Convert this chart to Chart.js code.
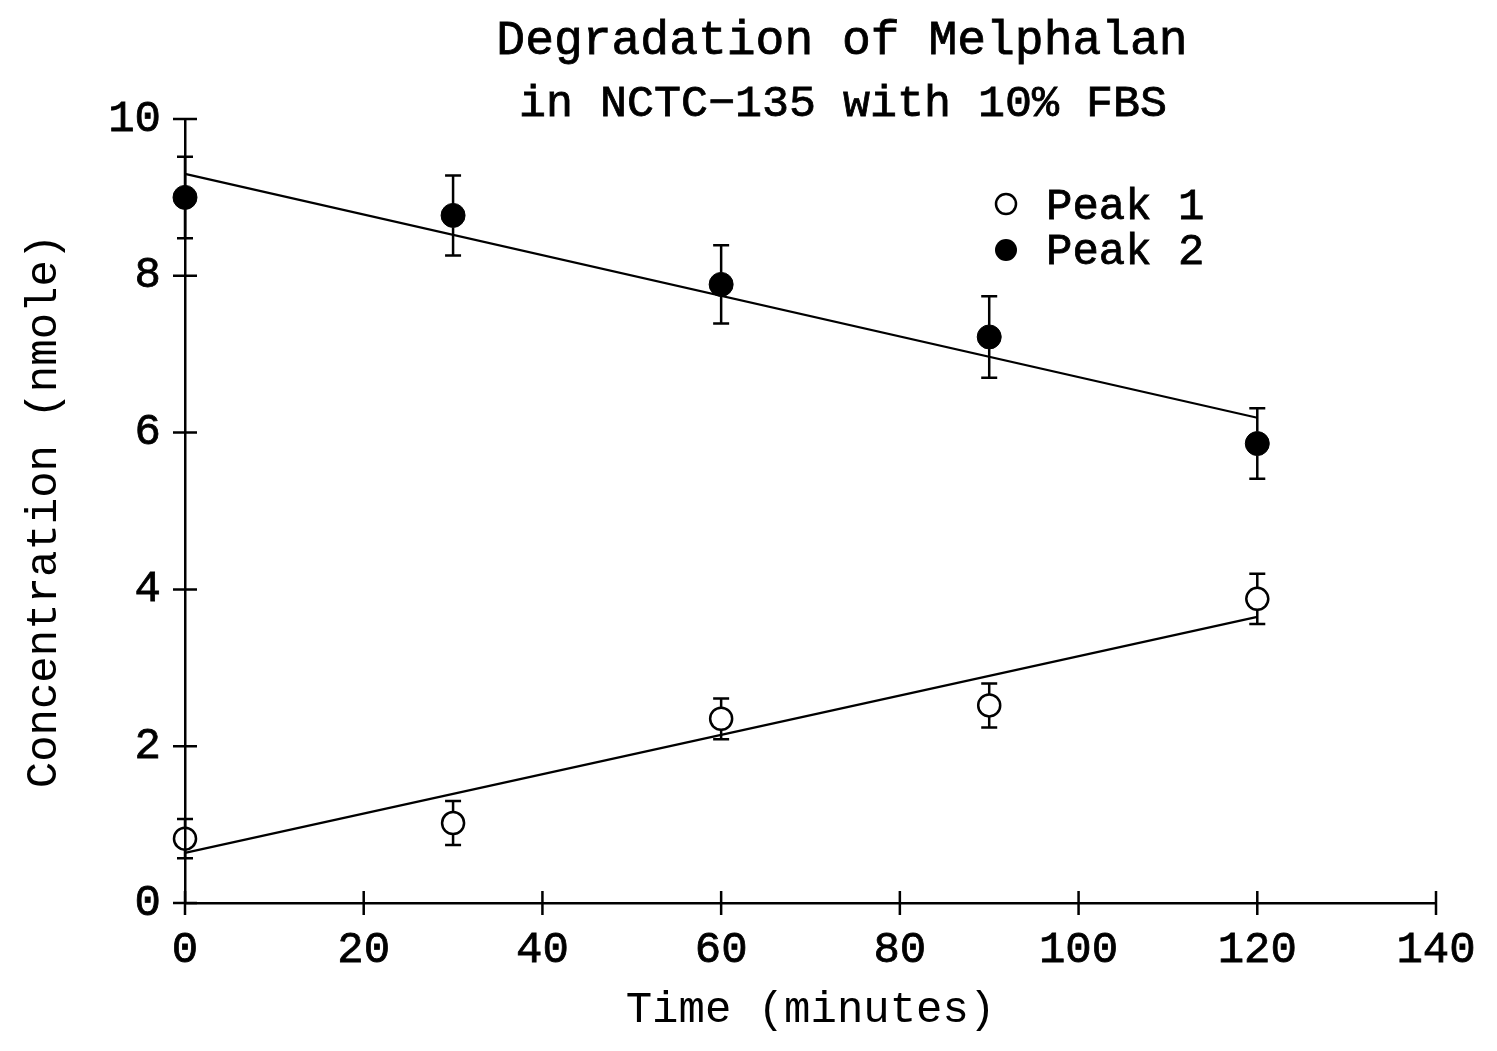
<!DOCTYPE html>
<html>
<head>
<meta charset="utf-8">
<script src="https://cdn.jsdelivr.net/npm/chart.js@4/dist/chart.umd.min.js"></script>
<style>
html,body{margin:0;padding:0;background:#fff;}
#wrap{width:1497px;height:1051px;position:relative;}
</style>
</head>
<body>
<div id="wrap"><canvas id="c" width="1497" height="1051"></canvas></div>
<script>
// ---- data ----
const titleLines = ["Degradation of Melphalan", "in NCTC\u2212135 with 10% FBS"];
const xAxisTitle = "Time (minutes)";
const yAxisTitle = "Concentration (nmole)";
const seriesNames = ["Peak 1", "Peak 2"];
const timePoints = [0, 30, 60, 90, 120];
const peak1 = [0.82, 1.02, 2.35, 2.52, 3.88];
const peak1Err = [0.25, 0.28, 0.26, 0.28, 0.32];
const peak2 = [9.00, 8.77, 7.89, 7.22, 5.86];
const peak2Err = [0.52, 0.51, 0.50, 0.52, 0.45];
const fitX = [0, 120];
const fit1 = [0.64, 3.65];
const fit2 = [9.30, 6.19];
const xTicks = [0, 20, 40, 60, 80, 100, 120, 140];
const yTicks = [0, 2, 4, 6, 8, 10];

const FONT = "'Liberation Mono', 'Courier New', monospace";

const pts = (xs, ys) => xs.map((x, i) => ({x: x, y: ys[i]}));

const crossTicks = {
  id: 'crossTicks',
  afterDraw(chart) {
    const ctx = chart.ctx, xs = chart.scales.x, ys = chart.scales.y;
    const ca = chart.chartArea;
    ctx.save();
    ctx.strokeStyle = '#000';
    ctx.lineWidth = 2.5;
    ctx.beginPath();
    xs.ticks.forEach(t => {
      const px = xs.getPixelForValue(t.value);
      ctx.moveTo(px, ca.bottom - 12); ctx.lineTo(px, ca.bottom + 12);
    });
    ys.ticks.forEach(t => {
      const py = ys.getPixelForValue(t.value);
      ctx.moveTo(ca.left - 12, py); ctx.lineTo(ca.left + 12, py);
    });
    ctx.stroke();
    ctx.restore();
  }
};

const errorBars = {
  id: 'errorBars',
  afterDatasetsDraw(chart) {
    const ctx = chart.ctx, xs = chart.scales.x, ys = chart.scales.y;
    ctx.save();
    ctx.strokeStyle = '#000';
    ctx.lineWidth = 2.5;
    chart.data.datasets.forEach(ds => {
      if (!ds.errors) return;
      const r = ds.pointRadius;
      ds.data.forEach((p, i) => {
        const px = xs.getPixelForValue(p.x);
        const pc = ys.getPixelForValue(p.y);
        const top = ys.getPixelForValue(p.y + ds.errors[i]);
        const bot = ys.getPixelForValue(p.y - ds.errors[i]);
        ctx.beginPath();
        ctx.moveTo(px, top); ctx.lineTo(px, pc - r);
        ctx.moveTo(px, pc + r); ctx.lineTo(px, bot);
        ctx.moveTo(px - 8, top); ctx.lineTo(px + 8, top);
        ctx.moveTo(px - 8, bot); ctx.lineTo(px + 8, bot);
        ctx.stroke();
      });
    });
    ctx.restore();
  }
};

function boldText(ctx, s, x, y) {
  ctx.fillText(s, x, y);
  ctx.strokeText(s, x, y);
}

const textLayer = {
  id: 'textLayer',
  afterDraw(chart) {
    const ctx = chart.ctx;
    ctx.save();
    ctx.fillStyle = '#000';
    ctx.strokeStyle = '#000';
    ctx.lineWidth = 0.8;
    ctx.textAlign = 'center';
    ctx.textBaseline = 'alphabetic';
    ctx.font = "48px " + FONT;
    boldText(ctx, titleLines[0], 842, 54);
    ctx.font = "45px " + FONT;
    boldText(ctx, titleLines[1], 843, 116);
    // legend
    ctx.textAlign = 'left';
    ctx.font = "44px " + FONT;
    boldText(ctx, seriesNames[0], 1046, 219);
    boldText(ctx, seriesNames[1], 1046, 264);
    ctx.lineWidth = 2.5;
    ctx.beginPath(); ctx.arc(1006, 204, 10, 0, Math.PI * 2); ctx.stroke();
    ctx.beginPath(); ctx.arc(1006, 250, 11, 0, Math.PI * 2); ctx.fill();
    ctx.restore();
  }
};

new Chart(document.getElementById('c'), {
  type: 'scatter',
  data: {
    datasets: [
      { type: 'line', label: 'fit1', data: pts(fitX, fit1), borderColor: '#000', borderWidth: 2.2, pointRadius: 0, fill: false, clip: false },
      { type: 'line', label: 'fit2', data: pts(fitX, fit2), borderColor: '#000', borderWidth: 2.2, pointRadius: 0, fill: false, clip: false },
      { label: seriesNames[0], data: pts(timePoints, peak1), errors: peak1Err, pointRadius: 11, pointBackgroundColor: 'rgba(0,0,0,0)', pointBorderColor: '#000', pointBorderWidth: 2.5, clip: false },
      { label: seriesNames[1], data: pts(timePoints, peak2), errors: peak2Err, pointRadius: 12, pointBackgroundColor: '#000', pointBorderColor: '#000', pointBorderWidth: 1, clip: false }
    ]
  },
  options: {
    responsive: false,
    animation: false,
    devicePixelRatio: 1,
    layout: { padding: { top: 119, right: 61, left: 0, bottom: 0 } },
    plugins: { legend: { display: false }, title: { display: false }, tooltip: { enabled: false } },
    scales: {
      x: {
        type: 'linear', min: 0, max: 140,
        afterBuildTicks: s => { s.ticks = xTicks.map(v => ({value: v})); },
        afterFit: s => { s.height = 148; },
        ticks: { color: '#000', font: { family: FONT, size: 44 }, padding: 21, maxRotation: 0, textStrokeColor: '#000', textStrokeWidth: 0.8 },
        grid: { display: true, drawOnChartArea: false, drawTicks: false },
        border: { display: true, color: '#000', width: 2.5 },
        title: { display: true, text: xAxisTitle, color: '#000', font: { family: FONT, size: 44, weight: 'normal' }, padding: { top: 0, bottom: 14 } }
      },
      y: {
        type: 'linear', min: 0, max: 10,
        afterBuildTicks: s => { s.ticks = yTicks.map(v => ({value: v})); },
        afterFit: s => { s.width = 185; },
        ticks: { color: '#000', font: { family: FONT, size: 44 }, padding: 24, textStrokeColor: '#000', textStrokeWidth: 0.8 },
        grid: { display: true, drawOnChartArea: false, drawTicks: false },
        border: { display: true, color: '#000', width: 2.5 },
        title: { display: true, text: yAxisTitle, color: '#000', font: { family: FONT, size: 44, weight: 'normal' }, padding: { top: 18, bottom: 0 } }
      }
    }
  },
  plugins: [crossTicks, errorBars, textLayer]
});
</script>
</body>
</html>
